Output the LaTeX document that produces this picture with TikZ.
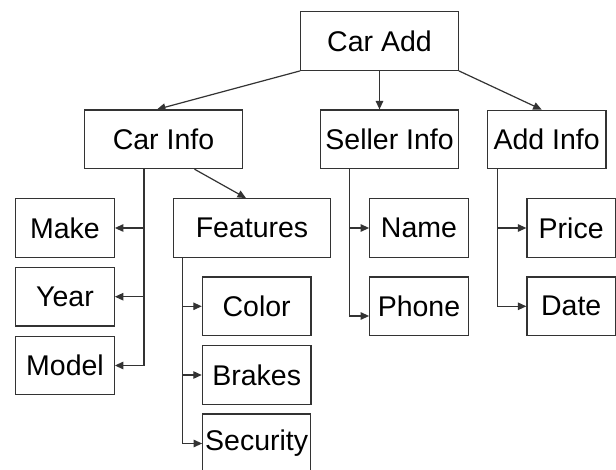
\documentclass[tikz,border=0pt]{standalone}
\usepackage{fontspec}
\setmainfont{Liberation Sans}
\usetikzlibrary{arrows.meta,calc}
\definecolor{linegray}{HTML}{333333}
\begin{document}
\begin{tikzpicture}[x=1pt,y=-1pt,
  box/.style={draw=linegray,line width=1.2pt,rectangle,inner sep=0pt,
    minimum height=58.6pt,font=\fontsize{28.5}{34}\selectfont,text=black},
  arr/.style={draw=linegray,line width=1.2pt,-{Triangle[length=8.5pt,width=7.5pt]}},
  ln/.style={draw=linegray,line width=1.2pt}]
\useasboundingbox (0,0) rectangle (616,470);
\fill[white] (0,0) rectangle (616,470);
\begin{scope}
\clip (0,0) rectangle (616,470);
\node[box,minimum width=157.6pt] (caradd) at (379.5,41) {Car Add};
\node[box,minimum width=158pt] (carinfo) at (163.5,139.3) {Car Info};
\node[box,minimum width=137.8pt] (sellerinfo) at (389.6,139.3) {Seller Info};
\node[box,minimum width=118.7pt] (addinfo) at (546.7,139.5) {Add Info};
\node[box,minimum width=98.6pt] (make) at (65,228) {Make};
\node[box,minimum width=98.6pt] (year) at (65,296.7) {Year};
\node[box,minimum width=98.6pt] (model) at (65,365.5) {Model};
\node[box,minimum width=157.4pt] (features) at (252,228) {Features};
\node[box,minimum width=108.7pt] (color) at (256.7,306.3) {Color};
\node[box,minimum width=108.7pt] (brakes) at (256.7,375) {Brakes};
\node[box,minimum width=108pt,minimum height=59pt] (security) at (256.7,443.5) {Security};
\node[box,minimum width=98.6pt] (name) at (419,228) {Name};
\node[box,minimum width=98.6pt] (phone) at (419,306.3) {Phone};
\node[box,minimum width=88.5pt] (price) at (571.2,228) {Price};
\node[box,minimum width=88.5pt] (date) at (571.2,306.3) {Date};
\end{scope}
% top level
\draw[arr] (caradd.south west) -- ([xshift=-6.5pt]carinfo.north);
\draw[arr] (caradd.south) -- (caradd.south |- sellerinfo.north);
\draw[arr] (caradd.south east) -- ([xshift=-5pt]addinfo.north);
% car info
\coordinate (cib) at ([xshift=-19.5pt]carinfo.south);
\draw[arr] (cib) |- (model.east);
\draw[arr] (cib |- make.east) -- (make.east);
\draw[arr] (cib |- year.east) -- (year.east);
\draw[arr] ([xshift=31pt]carinfo.south) -- ([xshift=-6pt]features.north);
% features
\coordinate (fb) at ([xshift=9.7pt]features.south west);
\draw[arr] (fb) |- (security.west);
\draw[arr] (fb |- color.west) -- (color.west);
\draw[arr] (fb |- brakes.west) -- (brakes.west);
% seller info
\coordinate (sb) at ([xshift=29.3pt]sellerinfo.south west);
\draw[arr] (sb) |- ([yshift=-9.7pt]phone.west);
\draw[arr] (sb |- name.west) -- (name.west);
% add info
\coordinate (ab) at ([xshift=10.7pt]addinfo.south west);
\draw[arr] (ab) |- (date.west);
\draw[arr] (ab |- price.west) -- (price.west);
\end{tikzpicture}
\end{document}
